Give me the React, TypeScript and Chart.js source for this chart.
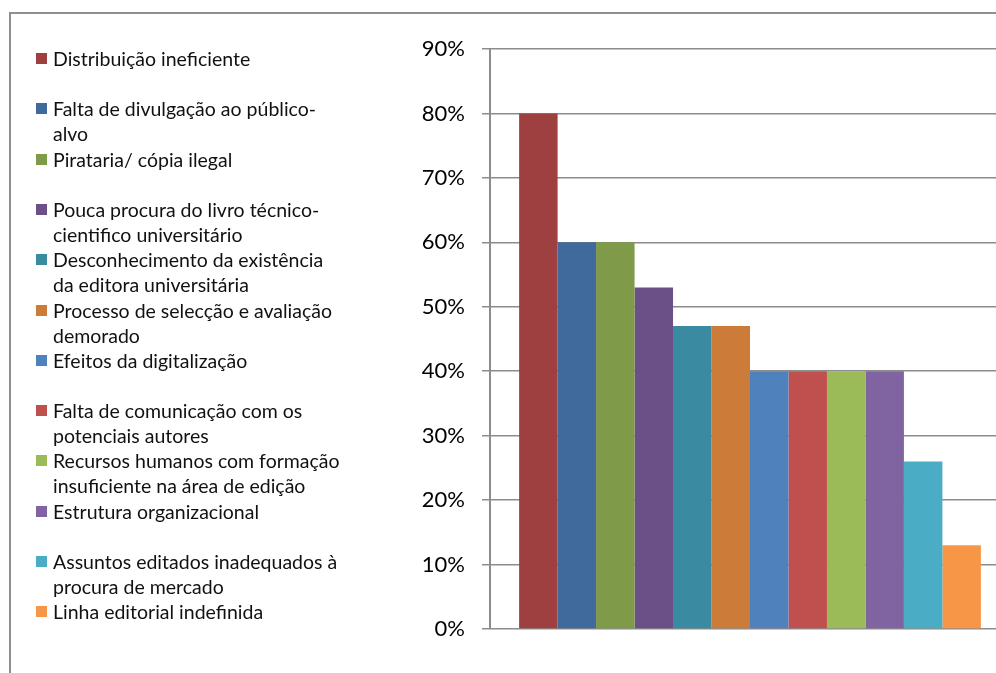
import React, { useEffect, useRef } from "react";
import { Chart, registerables } from "chart.js";

Chart.register(...registerables);

const categories = [""];

const seriesLabels: string[][] = [
  ["Distribuição ineficiente"],
  ["Falta de divulgação ao público-", "alvo"],
  ["Pirataria/ cópia ilegal"],
  ["Pouca procura do livro técnico-", "cientifico universitário"],
  ["Desconhecimento da existência", "da editora universitária"],
  ["Processo de selecção e avaliação", "demorado"],
  ["Efeitos da digitalização"],
  ["Falta de comunicação com os", "potenciais autores"],
  ["Recursos humanos com formação", "insuficiente na área de edição"],
  ["Estrutura organizacional"],
  ["Assuntos editados inadequados à", "procura de mercado"],
  ["Linha editorial indefinida"],
];

const seriesValues = [0.8, 0.6, 0.6, 0.53, 0.47, 0.47, 0.4, 0.4, 0.4, 0.4, 0.26, 0.13];

const seriesColors = [
  "#9D403F",
  "#3F6A9B",
  "#7F9A48",
  "#6A5086",
  "#3A8BA1",
  "#CC7C38",
  "#4F81BD",
  "#C0504D",
  "#9BBB59",
  "#8064A2",
  "#4BACC6",
  "#F79646",
];

const yTickLabels = ["0%", "10%", "20%", "30%", "40%", "50%", "60%", "70%", "80%", "90%"];

const FONT = "Lato, 'Open Sans', sans-serif";

export default function App() {
  const canvasRef = useRef<HTMLCanvasElement | null>(null);

  useEffect(() => {
    const canvas = canvasRef.current;
    if (!canvas) return;
    const chart = new Chart(canvas, {
      type: "bar",
      data: {
        labels: categories,
        datasets: seriesValues.map((v, i) => ({
          label: seriesLabels[i].join(" "),
          data: [v],
          backgroundColor: seriesColors[i],
          borderWidth: 0,
          categoryPercentage: 0.888,
          barPercentage: 1.0,
        })),
      },
      options: {
        animation: false,
        responsive: false,
        maintainAspectRatio: false,
        layout: { padding: { left: 0, right: 20, top: 49, bottom: 44 } },
        plugins: {
          legend: { display: false },
          tooltip: { enabled: false },
        },
        scales: {
          x: { display: false },
          y: {
            min: 0,
            max: 0.9,
            ticks: {
              stepSize: 0.1,
              padding: 17,
              color: "#000",
              font: { family: FONT, size: 22 },
              callback: (value: any) => yTickLabels[Math.round(Number(value) * 10)],
            },
            grid: {
              color: "#8c8c8c",
              lineWidth: 1.5,
              tickLength: 8,
              drawTicks: true,
            },
            border: { color: "#8c8c8c", width: 2 },
            afterFit: (scale: any) => {
              scale.width = 490;
            },
          },
        },
      },
    });
    return () => chart.destroy();
  }, []);

  const lineHeight = 25;
  const firstTop = 46;
  const slot = 50.3;

  return (
    <div
      style={{
        position: "fixed",
        left: 0,
        top: 0,
        width: 996,
        height: 673,
        overflow: "hidden",
        background: "#fff",
      }}
    >
      <div
        style={{
          position: "absolute",
          left: 9,
          top: 12,
          width: 1200,
          height: 1200,
          borderTop: "2px solid #8f8f8f",
          borderLeft: "2px solid #8f8f8f",
          boxSizing: "border-box",
        }}
      />
      <canvas
        ref={canvasRef}
        width={1030}
        height={673}
        style={{ position: "absolute", left: 0, top: 0, width: 1030, height: 673 }}
      />
      {seriesLabels.map((lines, i) => (
        <div
          key={i}
          style={{
            position: "absolute",
            left: 36,
            top: firstTop + i * slot,
            fontFamily: FONT,
            fontSize: 19.5,
            lineHeight: `${lineHeight}px`,
            color: "#111",
            whiteSpace: "nowrap",
          }}
        >
          <span
            style={{
              position: "absolute",
              left: 0,
              top: 7,
              width: 11,
              height: 11,
              background: seriesColors[i],
            }}
          />
          <div style={{ marginLeft: 17 }}>
            {lines.map((l, j) => (
              <div key={j}>{l}</div>
            ))}
          </div>
        </div>
      ))}
    </div>
  );
}
